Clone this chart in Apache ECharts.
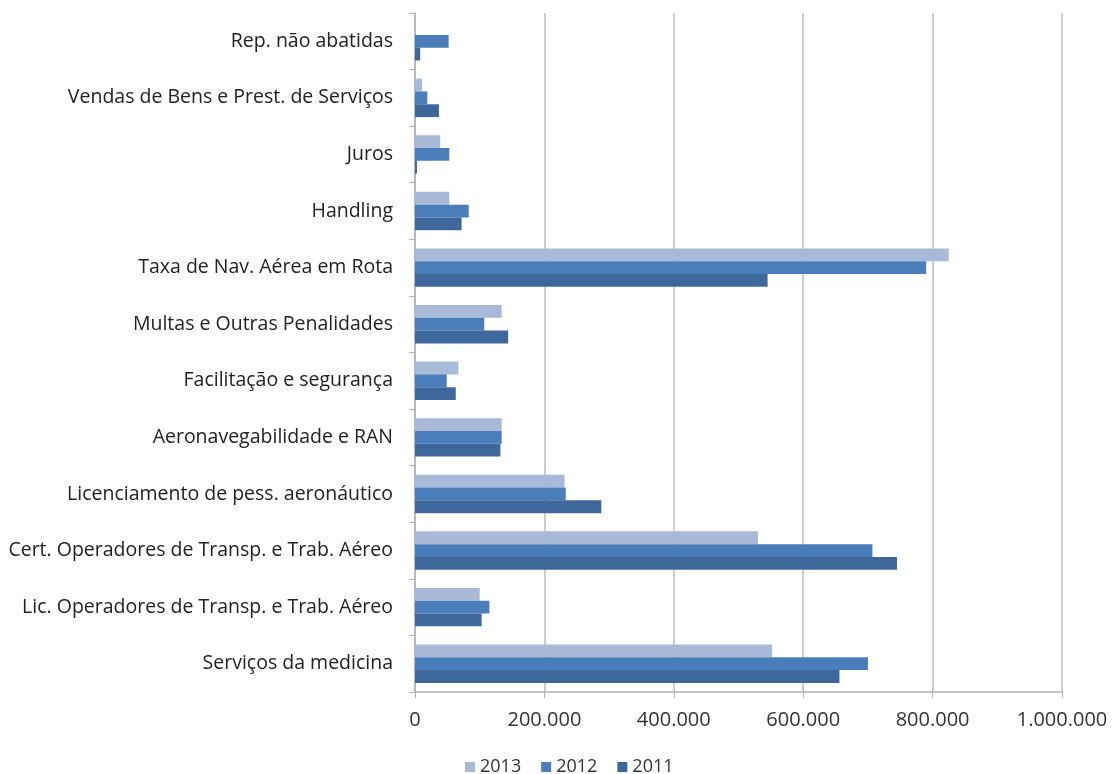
<!DOCTYPE html>
<html>
<head>
<meta charset="utf-8">
<script src="https://cdn.jsdelivr.net/npm/echarts@6/dist/echarts.min.js"></script>
<style>
html,body{margin:0;padding:0;background:#fff;}
#chart{width:1112px;height:774px;}
</style>
</head>
<body>
<div id="chart"></div>
<script>
const categories = [
  "Rep. não abatidas",
  "Vendas de Bens e Prest. de Serviços",
  "Juros",
  "Handling",
  "Taxa de Nav. Aérea em Rota",
  "Multas e Outras Penalidades",
  "Facilitação e segurança",
  "Aeronavegabilidade e RAN",
  "Licenciamento de pess. aeronáutico",
  "Cert. Operadores de Transp. e Trab. Aéreo",
  "Lic. Operadores de Transp. e Trab. Aéreo",
  "Serviços da medicina"
];
const values2013 = [0, 11000, 39000, 53000, 825000, 134000, 67000, 134000, 231000, 530000, 100000, 552000];
const values2012 = [52000, 19000, 53000, 83000, 790000, 107000, 49000, 134000, 233000, 707000, 115000, 700000];
const values2011 = [8000, 37000, 3000, 72000, 545000, 144000, 63000, 132000, 288000, 745000, 103000, 656000];
const xTicks = [0, 200000, 400000, 600000, 800000, 1000000];

const fmt = v => v === 0 ? "0" : String(v).replace(/\B(?=(\d{3})+(?!\d))/g, ".");
const font = "'Open Sans', sans-serif";

const chart = echarts.init(document.getElementById('chart'), null, {renderer: 'canvas'});
chart.setOption({
  animation: false,
  textStyle: {fontFamily: font},
  grid: {left: 415, right: 50, top: 13, bottom: 82, containLabel: false},
  legend: {
    top: 753,
    left: 460,
    itemWidth: 10, itemHeight: 10, itemGap: 20,
    icon: 'rect',
    textStyle: {fontSize: 18, color: '#333', fontFamily: font},
    data: ['2013', '2012', '2011']
  },
  xAxis: {
    type: 'value',
    min: xTicks[0], max: xTicks[xTicks.length - 1], interval: 200000,
    axisLine: {show: true, lineStyle: {color: '#b3b3b3', width: 1.5}},
    axisTick: {show: true, length: 6, lineStyle: {color: '#b3b3b3'}},
    axisLabel: {formatter: fmt, fontSize: 20, color: '#333', margin: 18, fontFamily: font},
    splitLine: {show: true, lineStyle: {color: '#bdbdbd', width: 1.5}}
  },
  yAxis: {
    type: 'category',
    inverse: true,
    data: categories,
    axisLine: {show: true, lineStyle: {color: '#b3b3b3', width: 1.5}},
    axisTick: {show: true, length: 6, lineStyle: {color: '#b3b3b3'}},
    axisLabel: {fontSize: 19.5, color: '#222', margin: 22, fontFamily: font}
  },
  series: [
    {name: '2013', type: 'bar', data: values2013, itemStyle: {color: '#a9b9d8'}, barGap: '0%', barCategoryGap: '32%'},
    {name: '2012', type: 'bar', data: values2012, itemStyle: {color: '#4a7ebb'}, barGap: '0%', barCategoryGap: '32%'},
    {name: '2011', type: 'bar', data: values2011, itemStyle: {color: '#3e679b'}, barGap: '0%', barCategoryGap: '32%'}
  ]
});
</script>
</body>
</html>
